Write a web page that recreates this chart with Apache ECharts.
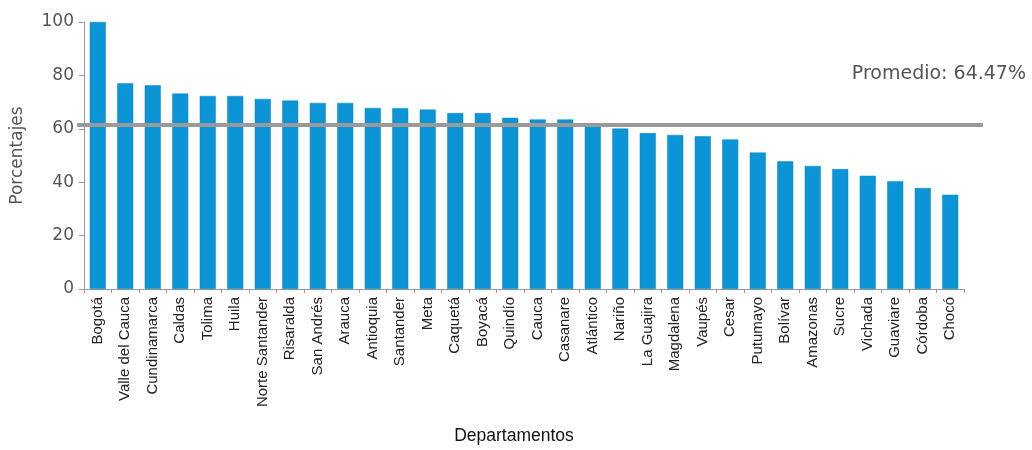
<!DOCTYPE html>
<html>
<head>
<meta charset="utf-8">
<script src="https://cdn.jsdelivr.net/npm/echarts@6/dist/echarts.min.js"></script>
<style>
html,body{margin:0;padding:0;background:#fff;}
#chart{width:1032px;height:450px;}
</style>
</head>
<body>
<div id="chart"></div>
<script>
const categories = ["Bogotá","Valle del Cauca","Cundinamarca","Caldas","Tolima","Huila","Norte Santander","Risaralda","San Andrés","Arauca","Antioquia","Santander","Meta","Caquetá","Boyacá","Quindío","Cauca","Casanare","Atlántico","Nariño","La Guajira","Magdalena","Vaupés","Cesar","Putumayo","Bolívar","Amazonas","Sucre","Vichada","Guaviare","Córdoba","Chocó"];
const values = [100,77.1,76.3,73.2,72.3,72.3,71.2,70.6,69.7,69.7,67.8,67.7,67.2,65.9,65.9,64.1,63.5,63.5,61.6,60.1,58.4,57.7,57.2,56.0,51.1,47.8,46.1,44.9,42.4,40.4,37.8,35.3];
const averageLineLevel = 61.7;
const averageLabel = "Promedio: 64.47%";
const yTicks = [0,20,40,60,80,100];

const chart = echarts.init(document.getElementById('chart'), null, {renderer:'canvas'});
chart.setOption({
  animation:false,
  backgroundColor:'#ffffff',
  title:{
    text: averageLabel,
    right: 1, top: 60,
    textStyle:{fontFamily:'DejaVu Sans', fontSize:19, fontWeight:'normal', color:'#555'}
  },
  grid:{left:84, right:68, top:22, bottom:160, containLabel:false},
  xAxis:{
    type:'category',
    data:categories,
    name:'Departamentos',
    nameLocation:'middle',
    nameGap:138,
    nameTextStyle:{fontFamily:'Liberation Sans', fontSize:17.5, color:'#111', padding:[0,20,0,0]},
    axisLine:{lineStyle:{color:'#999', width:1}},
    axisTick:{show:true, alignWithLabel:false, length:4, lineStyle:{color:'#999'}},
    axisLabel:{rotate:90, interval:0, margin:8, fontFamily:'Liberation Sans', fontSize:15, color:'#222'}
  },
  yAxis:{
    type:'value',
    min:yTicks[0], max:yTicks[yTicks.length-1], interval:20,
    name:'Porcentajes',
    nameLocation:'middle',
    nameRotate:90,
    nameGap:58,
    nameTextStyle:{fontFamily:'DejaVu Sans', fontSize:17, color:'#555'},
    axisLine:{show:true, lineStyle:{color:'#999', width:1}},
    axisTick:{show:true, length:5, lineStyle:{color:'#999'}},
    splitLine:{show:false},
    axisLabel:{margin:10, fontFamily:'DejaVu Sans', fontSize:17, color:'#555'}
  },
  series:[{
    type:'bar',
    data:values,
    barWidth:16,
    itemStyle:{color:'#0b95d6', borderColor:'#0a84c0', borderWidth:0.5},
    markLine:{
      silent:true,
      symbol:['none','none'],
      label:{show:false},
      lineStyle:{color:'#9a9a9a', width:4, type:'solid'},
      data:[[{x:77, yAxis:averageLineLevel},{x:983, yAxis:averageLineLevel}]]
    }
  }]
});
</script>
</body>
</html>
